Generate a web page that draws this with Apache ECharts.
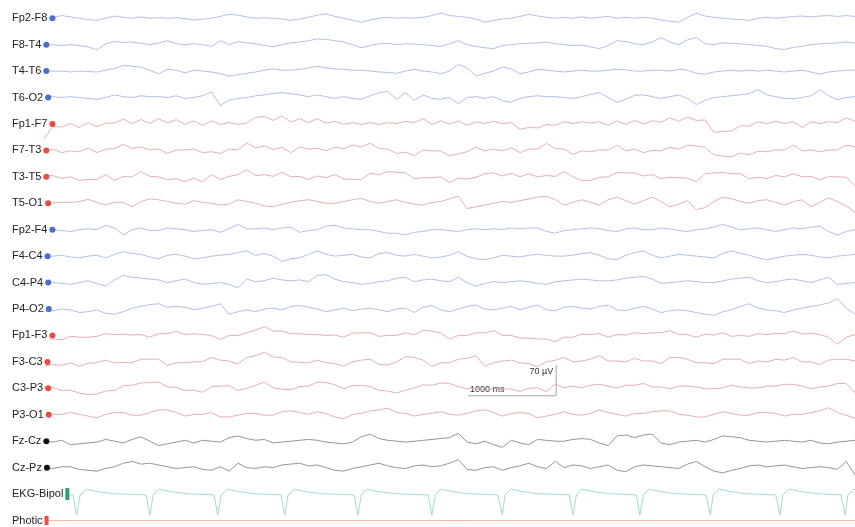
<!DOCTYPE html>
<html>
<head>
<meta charset="utf-8">
<script src="https://cdn.jsdelivr.net/npm/echarts@6/dist/echarts.min.js"></script>
<style>
  html, body { margin: 0; padding: 0; background: #fff; }
  #chart { width: 855px; height: 527px; }
</style>
</head>
<body>
<div id="chart"></div>
<script>
// montage, top to bottom
const channels = ['Fp2-F8', 'F8-T4', 'T4-T6', 'T6-O2', 'Fp1-F7', 'F7-T3', 'T3-T5', 'T5-O1',
  'Fp2-F4', 'F4-C4', 'C4-P4', 'P4-O2', 'Fp1-F3', 'F3-C3', 'C3-P3', 'P3-O1',
  'Fz-Cz', 'Cz-Pz', 'EKG-Bipol', 'Photic']
const groups = ['b', 'b', 'b', 'b', 'r', 'r', 'r', 'r', 'b', 'b', 'b', 'b', 'r', 'r', 'r', 'r', 'k', 'k', 'e', 'p']

const duration = 9.2   // seconds on screen
const rowSpacing = 60  // µV between traces

// EEG samples (µV), evenly spaced over the page
const fp2F8 = [0,2,6,3,0,-3,-5,0,5,2,0,3,0,1,0,1,-1,-4,-2,0,4,9,7,3,0,1,0,-2,-5,-2,2,7,10,4,0,-5,-9,-4,0,2,0,1,0,2,6,12,6,4,2,-2,-9,-5,-2,0,4,9,5,2,0,2,0,3,0,2,4,0,2,0,2,0,-4,-7,-9,2,11,5,2,0,-2,-3,-5,0,2,0,2,4,5,3,5,6,4,6,4]
const f8T4 = [0,0,-2,0,-2,-5,-12,2,7,5,6,3,0,4,9,2,0,2,0,-4,9,0,7,4,2,-2,-5,0,4,6,9,13,12,9,6,0,-7,-2,2,3,0,2,1,0,-2,-4,2,9,0,-4,-7,-9,-2,0,2,3,4,6,2,0,-2,-1,-5,-9,-2,9,7,2,0,6,16,6,0,11,16,2,0,4,3,2,0,-2,-4,-9,-11,-6,-4,0,2,3,4,6,4]
const t4T6 = [0,0,0,-2,0,-1,-2,2,6,13,11,9,2,-6,4,2,-4,2,0,-2,-6,-11,-8,-5,-2,2,5,2,2,4,7,11,7,5,4,2,2,0,-2,-3,-5,0,4,0,-2,-6,0,15,7,-11,-5,0,9,5,-6,-2,4,2,0,-2,0,2,0,0,2,4,3,0,0,2,2,0,4,2,-5,-7,-2,0,2,0,2,0,2,0,-2,0,2,-2,-7,-2,0,2,2]
const t6O2 = [2,2,0,2,0,-2,-4,0,6,2,0,4,2,2,0,4,-2,0,4,13,-18,-6,-2,0,4,6,9,11,9,6,2,6,2,-2,2,-2,-4,4,11,14,-4,11,-6,6,-2,-4,0,-14,0,2,-2,2,-7,-11,-2,2,4,2,2,0,-2,2,7,11,0,-11,-4,5,6,2,-2,2,6,-2,-16,-6,0,2,4,6,9,18,6,2,-2,-3,0,4,18,4,-5,0,2]
const fp1F7 = [-34,-6,-7,1,-8,3,-6,2,2,11,1,10,1,12,2,10,-1,7,-3,7,-1,3,-1,2,15,17,8,18,4,12,3,12,2,6,-1,3,-1,3,-1,3,1,6,3,12,-1,7,0,7,-3,5,1,6,1,3,-12,-8,-9,-1,-3,5,1,5,2,5,-3,7,-1,8,0,7,4,14,6,16,8,9,-19,-17,-16,-4,-5,5,1,6,1,5,-8,5,1,5,3,14,6]
const f7T3 = [-2,3,-5,-1,-3,5,-5,3,4,14,4,8,1,3,-7,1,1,3,-5,-3,-7,3,1,17,6,10,2,7,-5,8,3,5,-1,7,4,12,8,16,4,3,-7,-4,-12,1,-1,-1,-12,-8,-3,7,-1,3,-1,6,-5,3,3,16,4,3,-9,-1,-3,1,1,12,-1,3,-5,0,-1,7,3,12,10,7,-10,-13,-14,-6,-10,-2,-3,1,1,12,-1,1,-3,1,1,12,8]
const t3T5 = [2,3,-4,0,-8,-6,-6,5,-8,1,0,12,1,0,-7,-4,-11,-3,-11,5,-6,1,5,16,3,5,1,10,0,1,-6,2,-2,5,-5,-6,-6,8,5,12,10,9,-4,-2,-2,0,-13,-3,-5,-1,7,9,2,8,0,7,0,3,1,12,0,-8,-8,-1,0,10,9,9,2,5,-4,-1,-2,-3,-11,7,9,10,7,7,-4,-1,-4,3,0,7,0,1,-7,1,0,-1,-20]
const t5O1 = [0,1,2,2,4,9,2,-4,2,2,-8,4,10,8,4,0,-2,6,2,0,-4,-2,8,4,0,-6,-8,-2,2,6,8,4,0,0,4,8,11,4,0,4,8,2,-2,-4,2,4,10,16,-12,-8,-4,0,4,2,6,10,14,16,8,-4,2,8,2,-4,8,14,6,-2,6,14,4,-8,-2,6,-14,-10,4,14,10,4,0,6,8,2,-4,4,8,-8,2,12,4,-6,-20]
const fp2F4 = [0,0,-2,-4,0,2,0,10,4,-12,0,4,-2,-2,4,2,0,-4,-2,0,-6,2,12,2,2,4,0,4,6,-6,-2,0,8,10,4,2,0,0,-4,-8,-8,-12,-6,-4,0,0,-2,-4,0,2,0,2,0,4,2,4,4,-4,-8,-2,0,2,4,2,-2,-4,2,4,0,0,4,2,-2,-4,0,2,6,12,6,0,2,4,0,-4,0,4,2,6,8,-4,-12,-4,0]
const f4C4 = [0,0,2,-2,-4,0,2,-4,4,10,6,4,-2,-6,2,4,0,-6,-4,0,2,4,8,12,2,6,0,-12,-6,-4,4,12,4,0,2,4,-2,-4,6,8,2,0,4,0,-4,-2,2,10,0,-6,-8,-4,2,0,-2,2,4,2,0,0,2,6,8,2,-6,-8,2,8,12,2,-4,0,4,2,0,-2,-4,6,12,6,2,-4,-8,-4,0,2,4,2,-2,-4,0,2,4]
const c4P4 = [0,0,-2,-4,0,4,-2,-8,6,16,12,10,8,6,0,4,8,0,-4,-2,0,-4,-12,8,2,4,10,6,4,6,2,16,18,8,2,0,-4,-2,2,4,10,12,2,6,8,4,2,12,0,-8,-2,2,0,2,4,2,-2,-4,2,4,6,8,6,4,4,6,10,12,14,8,-2,0,2,4,2,0,0,4,8,10,12,4,0,2,6,8,4,0,6,12,-4,-2,0]
const p4O2 = [-6,-4,0,-2,-8,-6,-2,-10,-12,-6,2,6,10,12,4,6,4,-2,2,6,12,-12,-6,-2,-6,0,2,-2,6,8,4,0,-6,-2,2,-4,0,2,-2,-6,0,2,-8,4,8,-2,-6,0,6,9,0,-2,2,6,-2,4,9,-2,-4,4,6,2,0,6,9,-2,-4,2,6,0,-8,-4,-2,-4,-8,-12,-14,-6,-2,6,12,2,-2,-4,-8,-2,2,6,9,14,24,2,-12]
const fp1F3 = [-14,-8,-10,-2,-4,-4,-2,4,2,3,1,2,-4,4,4,10,2,4,2,0,-9,0,0,6,12,20,10,10,4,4,2,2,0,1,-4,5,6,6,-2,0,0,6,1,12,10,6,-8,0,0,6,6,11,0,0,-6,-6,-8,-8,-14,-4,-4,3,2,4,-4,2,1,6,4,6,6,11,2,2,-4,3,1,6,-2,0,-2,4,2,5,4,10,3,5,2,-4,-20,-4,2]
const f3C3 = [-10,-6,-8,-2,-10,-3,-2,4,-2,-1,-2,6,6,6,-8,-2,-2,0,1,10,4,2,-5,10,14,22,11,10,0,-1,-2,4,-2,-4,-10,0,4,6,-6,-7,0,12,10,4,-10,-2,-2,6,8,14,-10,-2,2,4,-2,-4,-11,0,4,10,0,2,6,14,2,2,0,8,2,2,-4,10,10,6,-2,-2,-4,6,6,6,-4,2,0,6,4,10,0,0,-6,4,6,6,2]
const c3P3 = [4,2,-5,-4,-11,-14,-13,-6,-5,6,7,12,13,14,3,2,-5,-4,-9,4,5,6,-5,0,7,14,1,-2,-3,4,5,14,13,8,-1,6,7,4,-5,-6,-11,-4,1,8,7,12,11,4,-1,0,-5,0,-1,-2,-7,0,1,-8,10,1,5,1,7,9,5,1,7,7,11,3,3,-1,5,5,3,-1,-1,1,7,3,1,1,5,5,9,9,5,-1,3,5,11,11,-10]
const p3O1 = [-2,1,1,5,1,-3,-7,1,5,5,-1,-1,5,11,11,5,-3,1,1,5,-5,-5,-1,3,3,-1,-1,7,9,5,1,7,3,-5,-9,1,3,9,11,15,5,3,-3,1,3,7,1,-1,3,9,11,5,-3,3,5,3,-7,-3,1,7,1,-1,3,11,5,1,-3,3,3,7,9,9,1,-1,-5,-5,1,7,3,-1,-1,5,5,3,-3,1,1,5,9,16,5,-1,-8]
const fzCz = [0,-2,2,-8,-6,-4,-2,4,0,-4,4,10,0,-10,-6,-2,2,-4,2,0,-2,8,12,6,2,4,-4,-2,0,2,4,2,-2,-4,-6,-2,10,16,6,2,0,-2,0,2,4,6,8,18,-2,-6,0,-8,-14,2,-4,-8,4,2,0,0,4,6,4,-4,-10,12,14,8,14,16,-4,-8,-2,0,2,-2,4,12,10,8,2,0,-2,0,2,0,-2,2,-4,-6,-2,0,2]
const czPz = [0,-2,2,2,-4,-6,-8,-2,2,10,14,8,10,6,2,-2,0,2,-4,-6,2,-8,10,0,-2,2,0,6,8,10,4,6,0,-6,-8,-2,2,6,10,4,0,-2,4,6,2,4,10,18,-4,-6,0,2,-6,0,4,10,2,-2,14,0,6,4,-2,2,6,-6,-9,2,6,4,2,0,-2,8,14,2,-8,-12,-6,-2,4,6,2,4,6,2,-2,0,2,0,-4,14,-16]
const eeg = [fp2F8, f8T4, t4T6, t6O2, fp1F7, f7T3, t3T5, t5O1, fp2F4, f4C4, c4P4, p4O2,
  fp1F3, f3C3, c3P3, p3O1, fzCz, czPz]

// EKG as [seconds, µV]
const ekg = [[0,-1],[0.3,-2],[0.33,-2],[0.37,-48],[0.41,-2],[0.48,11],[0.6,6],[0.77,1],
  [1.16,-2],[1.2,-48],[1.24,-2],[1.3,11],[1.43,6],[1.6,1],
  [1.93,-2],[1.97,-48],[2.01,-2],[2.08,11],[2.2,6],[2.37,1],
  [2.69,-2],[2.73,-48],[2.77,-2],[2.84,11],[2.96,6],[3.13,1],
  [3.52,-2],[3.56,-48],[3.6,-2],[3.66,11],[3.79,6],[3.96,1],
  [4.36,-2],[4.4,-48],[4.44,-2],[4.5,11],[4.63,6],[4.8,1],
  [5.15,-2],[5.2,-48],[5.23,-2],[5.3,11],[5.42,6],[5.59,1],
  [5.96,-2],[6,-48],[6.04,-2],[6.1,11],[6.23,6],[6.4,1],
  [6.72,-2],[6.76,-48],[6.8,-2],[6.86,11],[6.99,6],[7.16,1],
  [7.51,-2],[7.56,-48],[7.59,-2],[7.66,11],[7.78,6],[7.95,1],
  [8.3,-2],[8.35,-48],[8.38,-2],[8.45,11],[8.58,6],[8.75,1],
  [9.04,-2],[9.09,-48],[9.12,-2],[9.19,11],[9.2,10]]
const photic = [[0, 0], [9.2, 0]]

// calibration bar: 1000 ms by 70 µV
const barStart = 4.81
const barBase = 283
const barHeight = 70

const lineColors = { b: '#a8bae0', r: '#e3a7a7', k: '#8a8a8a', e: '#92d8cf', p: '#f2b194' }
const markColors = { b: '#4a6dd2', r: '#ea4a40', k: '#111111', e: '#2f9e72', p: '#f04c4c' }

const chart = echarts.init(document.getElementById('chart'))

const series = channels.map((name, i) => {
  const offset = (channels.length - 1 - i) * rowSpacing
  let data
  if (groups[i] === 'e') {
    data = ekg.map(p => [p[0], p[1] + offset])
  } else if (groups[i] === 'p') {
    data = photic.map(p => [p[0], p[1] + offset])
  } else {
    const vals = eeg[i]
    const step = duration / (vals.length - 1)
    data = vals.map((v, k) => [k * step, v + offset])
  }
  return {
    name: name,
    type: 'line',
    data: data,
    symbol: 'none',
    silent: true,
    lineStyle: { width: 0.9, color: lineColors[groups[i]] }
  }
})

series.push({
  type: 'line',
  data: [[barStart, barBase], [barStart + 1, barBase], [barStart + 1, barBase + barHeight]],
  symbol: 'none',
  silent: true,
  lineStyle: { width: 1, color: '#a6a6a6' }
})

const rich = { n: { fontSize: 11, color: '#222', fontFamily: 'Liberation Sans, Arial, sans-serif', backgroundColor: '#fff', padding: [1, 2, 1, 0] } }
Object.keys(markColors).forEach(g => {
  const dot = g === 'e' ? { width: 4, height: 12 } : g === 'p' ? { width: 4, height: 9 } : { width: 6, height: 6, borderRadius: 3 }
  rich[g] = Object.assign({ backgroundColor: markColors[g] }, dot)
})

chart.setOption({
  animation: false,
  grid: { left: 44, right: 0, top: 5, bottom: 5 },
  xAxis: {
    type: 'value',
    min: 0,
    max: duration,
    show: false
  },
  yAxis: {
    type: 'value',
    min: 0,
    max: (channels.length - 0.5) * rowSpacing,
    interval: rowSpacing,
    z: 10,
    axisLine: { show: false },
    axisTick: { show: false },
    splitLine: { show: false },
    axisLabel: {
      align: 'left',
      margin: 32,
      showMaxLabel: false,
      verticalAlign: 'middle',
      formatter: v => {
        const i = channels.length - 1 - Math.round(v / rowSpacing)
        if (i < 0 || i >= channels.length) return ''
        return '{n|' + channels[i] + '}{' + groups[i] + '|}'
      },
      rich: rich
    }
  },
  series: series
})

const p0 = chart.convertToPixel({ gridIndex: 0 }, [barStart, barBase])
const p1 = chart.convertToPixel({ gridIndex: 0 }, [barStart + 1, barBase + barHeight])
chart.setOption({
  graphic: [
    {
      type: 'text', x: p0[0] + 2, y: p0[1] - 2,
      style: { text: '1000 ms', fill: '#333', font: '9px Liberation Sans, Arial, sans-serif', align: 'left', verticalAlign: 'bottom' }
    },
    {
      type: 'text', x: p1[0] - 3, y: p1[1] + 2,
      style: { text: '70 µV', fill: '#333', font: '9px Liberation Sans, Arial, sans-serif', align: 'right', verticalAlign: 'top' }
    }
  ]
})
</script>
</body>
</html>
